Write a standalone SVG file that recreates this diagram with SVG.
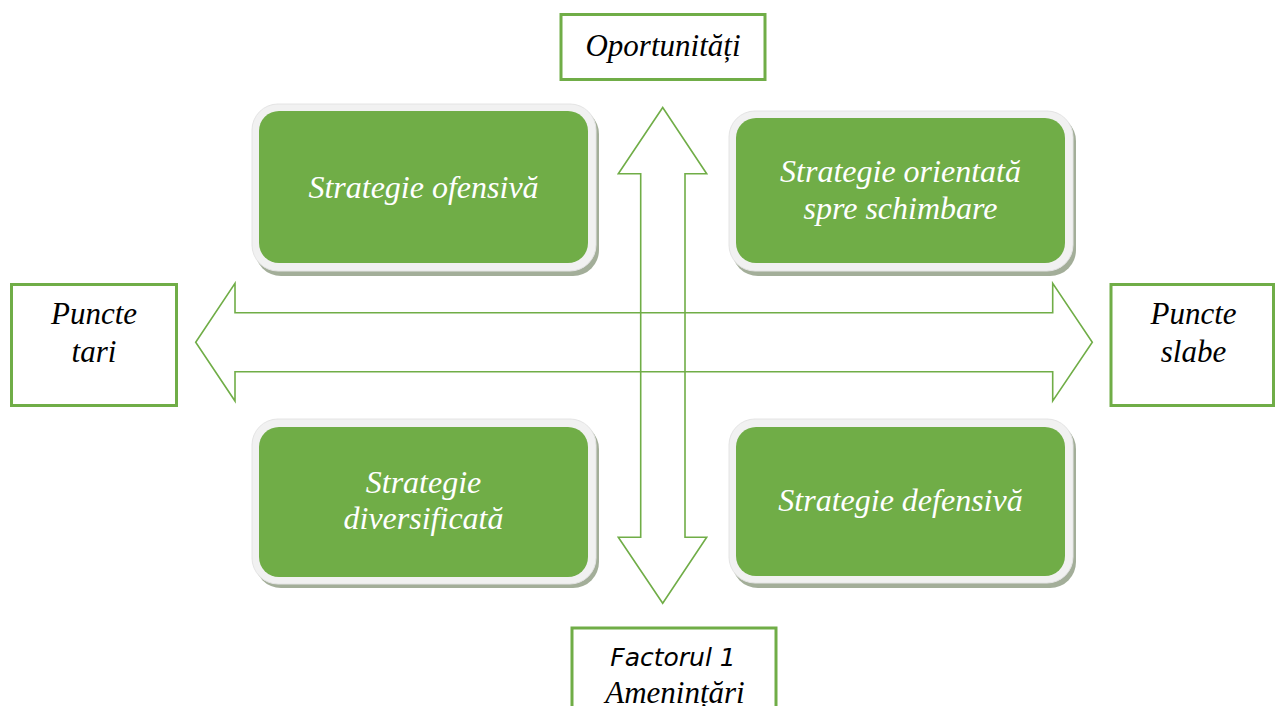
<svg xmlns="http://www.w3.org/2000/svg" width="1275" height="706" viewBox="0 0 1275 706">
<style>
.shadow{fill:#a3ae99}
.frame{fill:#f1f1f1;stroke:#e4e4e4;stroke-width:1}
.green{fill:#70ad47}
.wt{font-family:"Liberation Serif","Times New Roman",serif;font-style:italic;font-size:32px;fill:#ffffff;text-anchor:middle}
.lbl{fill:#ffffff;stroke:#70ad47;stroke-width:3}
.bt{font-family:"Liberation Serif","Times New Roman",serif;font-style:italic;font-size:31px;fill:#000000;text-anchor:middle}
.st{font-family:"DejaVu Sans",Verdana,sans-serif;font-style:italic;font-size:25px;fill:#000000;text-anchor:middle}
.arrow{fill:none;stroke:#70ad47;stroke-width:1.6;stroke-linejoin:miter}
</style>
<rect width="1275" height="706" fill="#ffffff"/>
<g id="connectors">
<path class="arrow" d="M662.7,107.5 L706.7,173.7 L685,173.7 L685,537.3 L706.7,537.3 L662.7,603.3 L618.3,537.3 L640.7,537.3 L640.7,173.7 L618.3,173.7 Z"/>
<path class="arrow" d="M195.7,342.3 L235,283.3 L235,312.7 L1052.7,312.7 L1052.7,283.3 L1092.3,342.3 L1052.7,401 L1052.7,371.7 L235,371.7 L235,401 Z"/>
</g>
<g id="oportunitati">
<rect class="lbl" x="561" y="14.5" width="204" height="65"/>
<text class="bt" x="663" y="56">Oportunități</text>
</g>
<g id="puncte-tari">
<rect class="lbl" x="11.5" y="284.5" width="165" height="121"/>
<text class="bt" x="94" y="324">Puncte</text>
<text class="bt" x="94" y="362">tari</text>
</g>
<g id="puncte-slabe">
<rect class="lbl" x="1111" y="284.5" width="162.5" height="121"/>
<text class="bt" x="1193.5" y="324">Puncte</text>
<text class="bt" x="1193.5" y="362">slabe</text>
</g>
<g id="factorul">
<rect class="lbl" x="572" y="628" width="204" height="90"/>
<text class="st" x="673" y="666">Factorul 1</text>
<text class="bt" x="675" y="703">Amenințări</text>
</g>
<g id="strategie-ofensiva">
<rect class="shadow" x="255" y="108" width="344" height="168" rx="26"/>
<rect class="frame" x="252" y="104" width="344" height="167" rx="26"/>
<rect class="green" x="259" y="111" width="329" height="152" rx="20"/>
<text class="wt" x="423.5" y="198">Strategie ofensivă</text>
</g>
<g id="strategie-orientata">
<rect class="shadow" x="732" y="115" width="344" height="161" rx="26"/>
<rect class="frame" x="729" y="111" width="344" height="160" rx="26"/>
<rect class="green" x="736" y="118" width="329" height="145" rx="20"/>
<text class="wt" x="900.5" y="182">Strategie orientată</text>
<text class="wt" x="900.5" y="219">spre schimbare</text>
</g>
<g id="strategie-diversificata">
<rect class="shadow" x="255" y="423" width="344" height="165" rx="26"/>
<rect class="frame" x="252" y="419" width="344" height="165" rx="26"/>
<rect class="green" x="259" y="427" width="329" height="150" rx="20"/>
<text class="wt" x="423.5" y="493">Strategie</text>
<text class="wt" x="423.5" y="529">diversificată</text>
</g>
<g id="strategie-defensiva">
<rect class="shadow" x="732" y="423" width="344" height="165" rx="26"/>
<rect class="frame" x="729" y="419" width="344" height="164" rx="26"/>
<rect class="green" x="736" y="427" width="329" height="149" rx="20"/>
<text class="wt" x="900.5" y="511">Strategie defensivă</text>
</g>
</svg>
